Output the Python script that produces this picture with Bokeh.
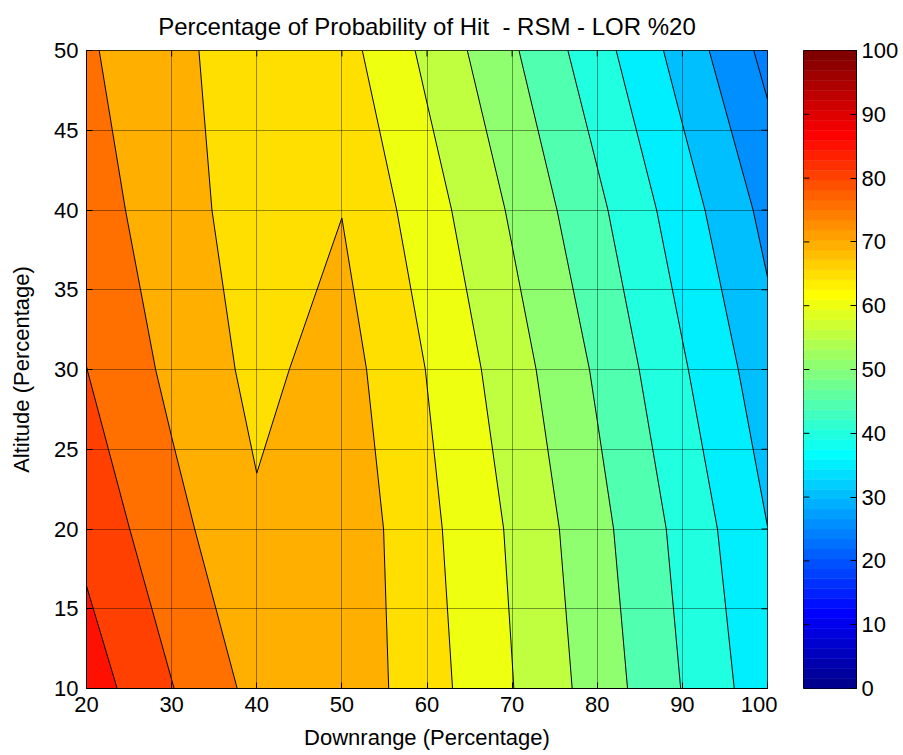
import numpy as np
from bokeh.plotting import figure
from bokeh.models import FixedTicker, ColumnDataSource, Range1d
from bokeh.layouts import row
from bokeh.embed import file_html
from bokeh.resources import INLINE

# ---------------- data ----------------
downrange = [20, 30, 40, 50, 60, 70, 80, 90, 100]
altitude = [10, 20, 30, 40, 50]
phit_alt10 = [87.7, 80.2, 73.45, 73.57, 67.08, 60.15, 52.85, 44.84, 36.9]
phit_alt20 = [83.5, 76.6, 70.7, 73.6, 66.25, 59.31, 51.55, 43.47, 35.05]
phit_alt30 = [80.05, 73.83, 68.7, 72.1, 64.86, 57.25, 49.27, 40.6, 32.07]
phit_alt40 = [77.7, 71.8, 68.0, 69.89, 62.3, 54.35, 46.1, 37.35, 28.5]
phit_alt50 = [75.67, 71.18, 67.5, 66.94, 58.87, 50.7, 42.0, 33.0, 23.46]
levels = [20, 25, 30, 35, 40, 45, 50, 55, 60, 65, 70, 75, 80, 85, 90]
x_ticks = [20, 30, 40, 50, 60, 70, 80, 90, 100]
y_ticks = [10, 15, 20, 25, 30, 35, 40, 45, 50]
cbar_ticks = [0, 10, 20, 30, 40, 50, 60, 70, 80, 90, 100]
title_text = "Percentage of Probability of Hit\u00a0 - RSM - LOR %20"
x_label = "Downrange (Percentage)"
y_label = "Altitude (Percentage)"

FONT = "Liberation Sans"
X_MIN, X_MAX, Y_MIN, Y_MAX = 20, 100, 10, 50
C_MIN, C_MAX = 0, 100
# canvas geometry (whole page fits the 903x755 window)
P_LEFT, P_RIGHT, TOP, BOTTOM = 86, 10, 50, 66
FRAME_W, FRAME_H = 681, 638
CB_LEFT, CB_W, CB_RIGHT = 26, 54, 44
FIG_H = TOP + FRAME_H + BOTTOM
TICK_PX = 6


def jet(m=64):
    n = int(np.ceil(m / 4))
    u = np.concatenate([np.arange(1, n + 1) / n, np.ones(n - 1), np.arange(n, 0, -1) / n])
    g = int(np.ceil(n / 2)) - (1 if m % 4 == 1 else 0) + np.arange(1, len(u) + 1)
    r = g + n
    b = g - n
    J = np.zeros((m, 3))
    J[r[r <= m] - 1, 0] = u[r <= m]
    J[g[g <= m] - 1, 1] = u[g <= m]
    J[b[b >= 1] - 1, 2] = u[b >= 1]
    return ["#%02x%02x%02x" % tuple(int(round(c * 255)) for c in rgb) for rgb in J]


jet64 = jet(64)


def cmap_index(v):
    return int(min(len(jet64) - 1, max(0, np.floor((v - C_MIN) / (C_MAX - C_MIN) * len(jet64)))))


Z = np.array([phit_alt10, phit_alt20, phit_alt30, phit_alt40, phit_alt50])
# band colour = level value (lowest band takes the data minimum, as MATLAB's contourf does)
fill_colors = [jet64[cmap_index(max(L, Z.min()))] for L in levels[:-1]]
X, Y = np.meshgrid(np.array(downrange, dtype=float), np.array(altitude, dtype=float))

# ---------------- main contour figure ----------------
p = figure(x_range=Range1d(X_MIN, X_MAX), y_range=Range1d(Y_MIN, Y_MAX),
           width=P_LEFT + FRAME_W + P_RIGHT, height=FIG_H,
           min_border_left=P_LEFT, min_border_right=P_RIGHT,
           min_border_top=TOP, min_border_bottom=BOTTOM,
           output_backend="svg", toolbar_location=None,
           title=title_text, x_axis_label=x_label, y_axis_label=y_label)

p.contour(x=X, y=Y, z=Z, levels=levels, fill_color=fill_colors,
          line_color="black", line_width=1)

p.title.text_font = FONT
p.title.text_font_size = "24px"
p.title.text_font_style = "normal"
p.title.text_color = "black"
p.title.align = "center"
p.title.standoff = 21

for ax in (p.xaxis[0], p.yaxis[0]):
    ax.major_tick_in = TICK_PX
    ax.major_tick_out = 0
    ax.minor_tick_line_color = None
    ax.axis_line_color = "black"
    ax.major_tick_line_color = "black"
    ax.major_label_text_font = FONT
    ax.major_label_text_font_size = "22px"
    ax.major_label_text_color = "black"
    ax.axis_label_text_font = FONT
    ax.axis_label_text_font_size = "22px"
    ax.axis_label_text_font_style = "normal"
    ax.axis_label_text_color = "black"

p.xaxis.ticker = FixedTicker(ticks=x_ticks)
p.yaxis.ticker = FixedTicker(ticks=y_ticks)
p.xaxis.major_label_standoff = 8
p.xaxis.axis_label_standoff = 10
p.yaxis.major_label_standoff = 8
p.yaxis.axis_label_standoff = 17

# mirrored inside ticks on the top and right edges (MATLAB box style)
dx_tick = TICK_PX * (X_MAX - X_MIN) / FRAME_W
dy_tick = TICK_PX * (Y_MAX - Y_MIN) / FRAME_H
p.segment(x0=x_ticks, x1=x_ticks, y0=[Y_MAX] * len(x_ticks), y1=[Y_MAX - dy_tick] * len(x_ticks),
          line_color="black", line_width=1)
p.segment(x0=[X_MAX] * len(y_ticks), x1=[X_MAX - dx_tick] * len(y_ticks), y0=y_ticks, y1=y_ticks,
          line_color="black", line_width=1)

p.xgrid.ticker = FixedTicker(ticks=x_ticks)
p.ygrid.ticker = FixedTicker(ticks=y_ticks)
p.grid.grid_line_color = "black"
p.grid.grid_line_alpha = 0.4
p.grid.grid_line_width = 1
p.grid.level = "overlay"
p.outline_line_color = "black"
p.outline_line_alpha = 1.0
p.background_fill_color = "white"
p.border_fill_color = "white"

# ---------------- colorbar figure ----------------
n_col = len(jet64)
cb_src = ColumnDataSource(dict(
    bottom=[C_MIN + i * (C_MAX - C_MIN) / n_col for i in range(n_col)],
    top=[C_MIN + (i + 1) * (C_MAX - C_MIN) / n_col for i in range(n_col)],
    color=jet64,
))
cb = figure(x_range=Range1d(0, 1), y_range=Range1d(C_MIN, C_MAX),
            width=CB_LEFT + CB_W + CB_RIGHT, height=FIG_H,
            min_border_left=CB_LEFT, min_border_right=CB_RIGHT,
            min_border_top=TOP, min_border_bottom=BOTTOM,
            output_backend="svg", toolbar_location=None,
            x_axis_location=None, y_axis_location="right")
cb.quad(left=0, right=1, bottom="bottom", top="top", fill_color="color",
        line_color="color", line_width=0.5, source=cb_src)
cb.segment(x0=[0] * len(cbar_ticks), x1=[TICK_PX / CB_W] * len(cbar_ticks), y0=cbar_ticks, y1=cbar_ticks,
           line_color="black", line_width=1)
cb.grid.visible = False
cb.yaxis.ticker = FixedTicker(ticks=cbar_ticks)
cb.yaxis.major_tick_in = TICK_PX
cb.yaxis.major_tick_out = 0
cb.yaxis.minor_tick_line_color = None
cb.yaxis.major_label_text_font = FONT
cb.yaxis.major_label_text_font_size = "22px"
cb.yaxis.major_label_text_color = "black"
cb.yaxis.major_label_standoff = 5
cb.yaxis.axis_line_color = "black"
cb.outline_line_color = "black"
cb.outline_line_alpha = 1.0
cb.border_fill_color = "white"

layout = row(p, cb)
open("out.html", "w").write(file_html(layout, INLINE))
